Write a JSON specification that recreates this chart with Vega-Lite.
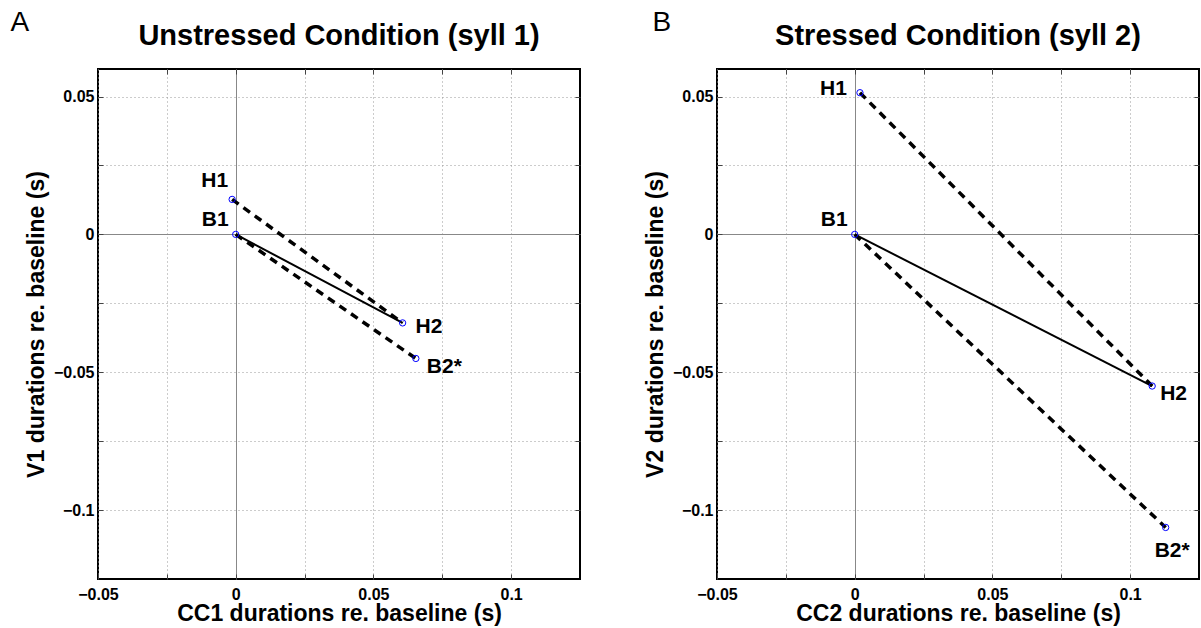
{
  "$schema": "https://vega.github.io/schema/vega-lite/v6.json",
  "padding": {"left": 10, "top": 8, "right": 0, "bottom": 0},
  "background": "white",
  "spacing": 61,
  "config": {
    "font": "Liberation Sans",
    "view": {"stroke": "#000000", "strokeWidth": 2},
    "axis": {
      "domain": false,
      "grid": true,
      "gridColor": {"condition": {"test": "datum.value === 0", "value": "#888888"}, "value": "#999999"},
      "gridDash": {"condition": {"test": "datum.value === 0", "value": []}, "value": [1, 3]},
      "gridWidth": 1,
      "ticks": true,
      "tickSize": -5,
      "tickColor": "#444444",
      "labelFont": "Liberation Sans",
      "labelFontWeight": "bold",
      "labelFontSize": 16,
      "labelColor": "#000000",
      "labelOverlap": false,
      "labelFlush": false,
      "titleFont": "Liberation Sans",
      "titleFontWeight": "bold",
      "titleFontSize": 23,
      "titleColor": "#000000",
      "format": "~g",
      "labelExpr": "abs(round(datum.value*1000)) % 50 == 0 ? datum.label : ''"
    },
    "axisX": {"labelPadding": 12, "titlePadding": 0},
    "axisY": {"labelPadding": 9, "titlePadding": 5},
    "title": {"font": "Liberation Sans", "color": "#000000"}
  },
  "datasets": {
    "pts": [
      {"panel": "A", "label": "H1", "x": -0.0013, "y": 0.0127},
      {"panel": "A", "label": "B1", "x": 0, "y": 0},
      {"panel": "A", "label": "H2", "x": 0.0606, "y": -0.0321},
      {"panel": "A", "label": "B2*", "x": 0.0654, "y": -0.045},
      {"panel": "B", "label": "H1", "x": 0.0019, "y": 0.0514},
      {"panel": "B", "label": "B1", "x": 0, "y": 0},
      {"panel": "B", "label": "H2", "x": 0.108, "y": -0.055},
      {"panel": "B", "label": "B2*", "x": 0.1129, "y": -0.1063}
    ],
    "segs": [
      {"panel": "A", "style": "dashed", "x1": -0.0013, "y1": 0.0127, "x2": 0.0606, "y2": -0.0321},
      {"panel": "A", "style": "dashed", "x1": 0, "y1": 0, "x2": 0.0654, "y2": -0.045},
      {"panel": "A", "style": "solid", "x1": 0, "y1": 0, "x2": 0.0606, "y2": -0.0321},
      {"panel": "B", "style": "dashed", "x1": 0.0019, "y1": 0.0514, "x2": 0.108, "y2": -0.055},
      {"panel": "B", "style": "dashed", "x1": 0, "y1": 0, "x2": 0.1129, "y2": -0.1063},
      {"panel": "B", "style": "solid", "x1": 0, "y1": 0, "x2": 0.108, "y2": -0.055}
    ]
  },
  "hconcat": [
    {
      "title": {"text": "A", "anchor": "start", "frame": "bounds", "fontSize": 28, "fontWeight": "normal", "baseline": "alphabetic", "offset": 0, "dx": -14, "dy": 38},
      "vconcat": [
        {
          "title": {"text": "Unstressed Condition (syll 1)", "fontSize": 29, "fontWeight": "bold", "anchor": "middle", "frame": "group", "baseline": "alphabetic", "offset": -5},
          "width": 482,
          "height": 510,
          "resolve": {"axis": {"x": "independent", "y": "independent"}},
          "layer": [
            {
              "data": {"name": "segs"},
              "transform": [{"filter": "datum.panel == 'A' && datum.style == 'dashed'"}],
              "mark": {"type": "rule", "color": "#000000", "strokeWidth": 3.5, "strokeDash": [8, 6]},
              "encoding": {
                "x": {"field": "x1", "type": "quantitative", "title": "CC1 durations re. baseline (s)", "scale": {"domain": [-0.05, 0.125], "nice": false, "zero": false}, "axis": {"values": [-0.05, -0.025, 0, 0.025, 0.05, 0.075, 0.1]}},
                "y": {"field": "y1", "type": "quantitative", "title": "V1 durations re. baseline (s)", "scale": {"domain": [-0.125, 0.06], "nice": false, "zero": false}, "axis": {"values": [-0.1, -0.075, -0.05, -0.025, 0, 0.025, 0.05]}},
                "x2": {"field": "x2"},
                "y2": {"field": "y2"}
              }
            },
            {
              "data": {"name": "segs"},
              "transform": [{"filter": "datum.panel == 'A' && datum.style == 'solid'"}],
              "mark": {"type": "rule", "color": "#000000", "strokeWidth": 2},
              "encoding": {
                "x": {"field": "x1", "type": "quantitative", "axis": {"orient": "top", "labels": false, "grid": false, "title": null, "values": [-0.025, 0, 0.025, 0.05, 0.075, 0.1]}},
                "y": {"field": "y1", "type": "quantitative", "axis": {"orient": "right", "labels": false, "grid": false, "title": null, "values": [-0.1, -0.075, -0.05, -0.025, 0, 0.025, 0.05]}},
                "x2": {"field": "x2"},
                "y2": {"field": "y2"}
              }
            },
            {
              "data": {"name": "pts"},
              "transform": [{"filter": "datum.panel == 'A'"}],
              "mark": {"type": "point", "shape": "circle", "filled": false, "color": "#0000ff", "size": 40, "strokeWidth": 1, "opacity": 1},
              "encoding": {
                "x": {"field": "x", "type": "quantitative", "axis": null},
                "y": {"field": "y", "type": "quantitative", "axis": null}
              }
            },
            {
              "data": {"name": "pts"},
              "transform": [{"filter": "datum.panel == 'A' && datum.label == 'H1'"}],
              "mark": {"type": "text", "font": "Liberation Sans", "fontWeight": "bold", "fontSize": 21, "color": "#000000", "align": "right", "baseline": "alphabetic", "dx": -4, "dy": -12},
              "encoding": {"x": {"field": "x", "type": "quantitative", "axis": null}, "y": {"field": "y", "type": "quantitative", "axis": null}, "text": {"field": "label"}}
            },
            {
              "data": {"name": "pts"},
              "transform": [{"filter": "datum.panel == 'A' && datum.label == 'B1'"}],
              "mark": {"type": "text", "font": "Liberation Sans", "fontWeight": "bold", "fontSize": 21, "color": "#000000", "align": "right", "baseline": "alphabetic", "dx": -7, "dy": -8},
              "encoding": {"x": {"field": "x", "type": "quantitative", "axis": null}, "y": {"field": "y", "type": "quantitative", "axis": null}, "text": {"field": "label"}}
            },
            {
              "data": {"name": "pts"},
              "transform": [{"filter": "datum.panel == 'A' && datum.label == 'H2'"}],
              "mark": {"type": "text", "font": "Liberation Sans", "fontWeight": "bold", "fontSize": 21, "color": "#000000", "align": "left", "baseline": "alphabetic", "dx": 13, "dy": 10},
              "encoding": {"x": {"field": "x", "type": "quantitative", "axis": null}, "y": {"field": "y", "type": "quantitative", "axis": null}, "text": {"field": "label"}}
            },
            {
              "data": {"name": "pts"},
              "transform": [{"filter": "datum.panel == 'A' && datum.label == 'B2*'"}],
              "mark": {"type": "text", "font": "Liberation Sans", "fontWeight": "bold", "fontSize": 21, "color": "#000000", "align": "left", "baseline": "alphabetic", "dx": 11, "dy": 15},
              "encoding": {"x": {"field": "x", "type": "quantitative", "axis": null}, "y": {"field": "y", "type": "quantitative", "axis": null}, "text": {"field": "label"}}
            }
          ]
        }
      ]
    },
    {
      "title": {"text": "B", "anchor": "start", "frame": "bounds", "fontSize": 28, "fontWeight": "normal", "baseline": "alphabetic", "offset": 0, "dx": 9, "dy": 38},
      "vconcat": [
        {
          "title": {"text": "Stressed Condition (syll 2)", "fontSize": 29, "fontWeight": "bold", "anchor": "middle", "frame": "group", "baseline": "alphabetic", "offset": -5},
          "width": 482,
          "height": 510,
          "resolve": {"axis": {"x": "independent", "y": "independent"}},
          "layer": [
            {
              "data": {"name": "segs"},
              "transform": [{"filter": "datum.panel == 'B' && datum.style == 'dashed'"}],
              "mark": {"type": "rule", "color": "#000000", "strokeWidth": 3.5, "strokeDash": [8, 6]},
              "encoding": {
                "x": {"field": "x1", "type": "quantitative", "title": "CC2 durations re. baseline (s)", "scale": {"domain": [-0.05, 0.125], "nice": false, "zero": false}, "axis": {"values": [-0.05, -0.025, 0, 0.025, 0.05, 0.075, 0.1]}},
                "y": {"field": "y1", "type": "quantitative", "title": "V2 durations re. baseline (s)", "scale": {"domain": [-0.125, 0.06], "nice": false, "zero": false}, "axis": {"values": [-0.1, -0.075, -0.05, -0.025, 0, 0.025, 0.05]}},
                "x2": {"field": "x2"},
                "y2": {"field": "y2"}
              }
            },
            {
              "data": {"name": "segs"},
              "transform": [{"filter": "datum.panel == 'B' && datum.style == 'solid'"}],
              "mark": {"type": "rule", "color": "#000000", "strokeWidth": 2},
              "encoding": {
                "x": {"field": "x1", "type": "quantitative", "axis": {"orient": "top", "labels": false, "grid": false, "title": null, "values": [-0.025, 0, 0.025, 0.05, 0.075, 0.1]}},
                "y": {"field": "y1", "type": "quantitative", "axis": {"orient": "right", "labels": false, "grid": false, "title": null, "values": [-0.1, -0.075, -0.05, -0.025, 0, 0.025, 0.05]}},
                "x2": {"field": "x2"},
                "y2": {"field": "y2"}
              }
            },
            {
              "data": {"name": "pts"},
              "transform": [{"filter": "datum.panel == 'B'"}],
              "mark": {"type": "point", "shape": "circle", "filled": false, "color": "#0000ff", "size": 40, "strokeWidth": 1, "opacity": 1},
              "encoding": {
                "x": {"field": "x", "type": "quantitative", "axis": null},
                "y": {"field": "y", "type": "quantitative", "axis": null}
              }
            },
            {
              "data": {"name": "pts"},
              "transform": [{"filter": "datum.panel == 'B' && datum.label == 'H1'"}],
              "mark": {"type": "text", "font": "Liberation Sans", "fontWeight": "bold", "fontSize": 21, "color": "#000000", "align": "right", "baseline": "alphabetic", "dx": -13, "dy": 2},
              "encoding": {"x": {"field": "x", "type": "quantitative", "axis": null}, "y": {"field": "y", "type": "quantitative", "axis": null}, "text": {"field": "label"}}
            },
            {
              "data": {"name": "pts"},
              "transform": [{"filter": "datum.panel == 'B' && datum.label == 'B1'"}],
              "mark": {"type": "text", "font": "Liberation Sans", "fontWeight": "bold", "fontSize": 21, "color": "#000000", "align": "right", "baseline": "alphabetic", "dx": -7, "dy": -8},
              "encoding": {"x": {"field": "x", "type": "quantitative", "axis": null}, "y": {"field": "y", "type": "quantitative", "axis": null}, "text": {"field": "label"}}
            },
            {
              "data": {"name": "pts"},
              "transform": [{"filter": "datum.panel == 'B' && datum.label == 'H2'"}],
              "mark": {"type": "text", "font": "Liberation Sans", "fontWeight": "bold", "fontSize": 21, "color": "#000000", "align": "left", "baseline": "alphabetic", "dx": 8, "dy": 14},
              "encoding": {"x": {"field": "x", "type": "quantitative", "axis": null}, "y": {"field": "y", "type": "quantitative", "axis": null}, "text": {"field": "label"}}
            },
            {
              "data": {"name": "pts"},
              "transform": [{"filter": "datum.panel == 'B' && datum.label == 'B2*'"}],
              "mark": {"type": "text", "font": "Liberation Sans", "fontWeight": "bold", "fontSize": 21, "color": "#000000", "align": "left", "baseline": "alphabetic", "dx": -11, "dy": 30},
              "encoding": {"x": {"field": "x", "type": "quantitative", "axis": null}, "y": {"field": "y", "type": "quantitative", "axis": null}, "text": {"field": "label"}}
            }
          ]
        }
      ]
    }
  ]
}
